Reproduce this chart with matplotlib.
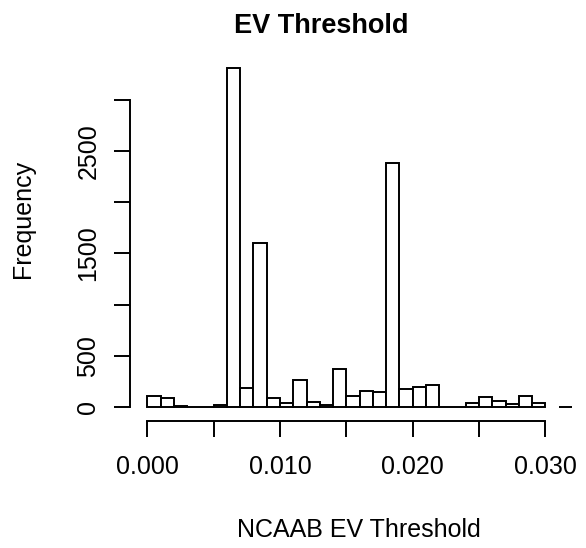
import numpy as np
import matplotlib.pyplot as plt

plt.rcParams['font.family'] = ['Liberation Sans', 'DejaVu Sans']

# histogram of NCAAB EV threshold, bins of 0.001 from 0 to 0.032
bin_edges = np.round(np.arange(0, 0.0325, 0.001), 4)
counts = np.array([108, 92, 8, 3, 1, 20, 3310, 183, 1603, 92,
                   43, 268, 49, 16, 375, 108, 157, 147, 2387, 173,
                   199, 219, 2, 5, 42, 98, 59, 26, 108, 39,
                   0, 4])
xticks = [0.000, 0.005, 0.010, 0.015, 0.020, 0.025, 0.030]
xticklabels = ["0.000", "", "0.010", "", "0.020", "", "0.030"]
yticks = [0, 500, 1000, 1500, 2000, 2500, 3000]
yticklabels = ["0", "500", "", "1500", "", "2500", ""]

fig = plt.figure(figsize=(5.86, 5.48), dpi=100)
ax = fig.add_axes([130.3 / 586, 1 - 420.7 / 548, 458.7 / 586, 366.2 / 548])

#bars (skip empty bins like R does visually)
left = bin_edges[:-1]
keep = counts > 0
ax.bar(left[keep], counts[keep], width=0.001, align='edge',
       color='white', edgecolor='black', linewidth=1.4)

M = counts.max()
ax.set_xlim(-0.04 * 0.032, 1.04 * 0.032)
ax.set_ylim(-0.04 * M, 1.04 * M)

for s in ['top', 'right']:
    ax.spines[s].set_visible(False)
ax.spines['bottom'].set_bounds(0, 0.03)
ax.spines['left'].set_bounds(0, 3000)
ax.spines['bottom'].set_linewidth(1.4)
ax.spines['left'].set_linewidth(1.4)

ax.set_xticks(xticks)
ax.set_xticklabels(xticklabels, fontsize=18)
ax.set_yticks(yticks)
ax.set_yticklabels(yticklabels, fontsize=18, rotation=90, va='center')
ax.tick_params(length=11.5, width=1.4)
ax.tick_params(axis='x', pad=13)
ax.tick_params(axis='y', pad=10)

fig.text(321 / 586, 1 - 33 / 548, "EV Threshold", fontsize=19.5, fontweight='bold',
         ha='center', va='baseline')
fig.text(359 / 586, 1 - 536.7 / 548, "NCAAB EV Threshold", fontsize=18,
         ha='center', va='baseline')
fig.text(23 / 586, 1 - 219 / 548, "Frequency", fontsize=18, rotation=90,
         ha='center', va='center')

plt.savefig("out.png", dpi=100)
